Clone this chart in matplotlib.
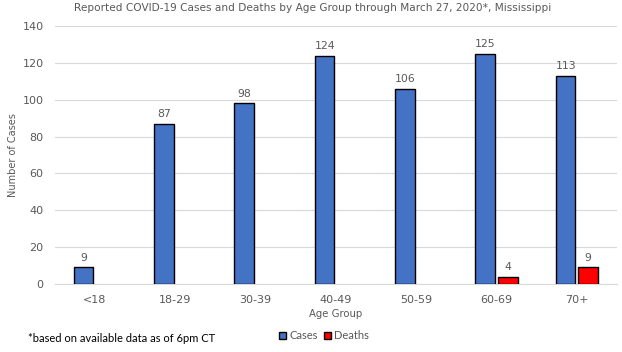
import numpy as np
import matplotlib.pyplot as plt
from matplotlib.patches import Patch

# data
age_groups = ["<18", "18-29", "30-39", "40-49", "50-59", "60-69", "70+"]
cases = [9, 87, 98, 124, 106, 125, 113]
deaths = [0, 0, 0, 0, 0, 4, 9]
y_ticks = [0, 20, 40, 60, 80, 100, 120, 140]

plt.rcParams['font.family'] = ['DejaVu Sans']

grey = '#595959'
blue = '#4472C4'
red = '#FF0000'
fig = plt.figure(figsize=(6.22, 3.52), dpi=100)
ax = fig.add_axes([0.088, 0.193, 0.904, 0.733])

x = np.arange(len(age_groups))
w = 0.245
off = 0.14
b1 = ax.bar(x - off, cases, w, color=blue, edgecolor='black', linewidth=1.0, zorder=3)
b2 = ax.bar(x + off, deaths, w, color=red, edgecolor='black', linewidth=1.0, zorder=3)

for rect, v in zip(b1, cases):
    ax.text(rect.get_x() + rect.get_width() / 2, v + 2.5, str(v), ha='center', va='bottom',
            fontsize=7.8, color=grey)
for rect, v in zip(b2, deaths):
    if v > 0:
        ax.text(rect.get_x() + rect.get_width() / 2, v + 2.5, str(v), ha='center', va='bottom',
                fontsize=7.8, color=grey)
    else:
        rect.set_visible(False)

ax.set_xlim(-0.5, len(age_groups) - 0.5)
ax.set_ylim(0, 140)
ax.set_yticks(y_ticks)
ax.set_xticks(x)
ax.set_xticklabels(age_groups)
ax.tick_params(axis='both', length=0, colors=grey, labelsize=8)
ax.tick_params(axis='x', pad=8)
ax.tick_params(axis='y', pad=8)
ax.yaxis.grid(True, color='#d9d9d9', linewidth=0.8, zorder=0)
for s in ['top', 'right', 'left']:
    ax.spines[s].set_visible(False)
ax.spines['bottom'].set_color('#d9d9d9')

ax.set_xlabel('Age Group', fontsize=7.3, color=grey, labelpad=3)
ax.set_ylabel('Number of Cases', fontsize=7, color=grey, labelpad=3)

fig.text(0.502, 0.978, 'Reported COVID-19 Cases and Deaths by Age Group through March 27, 2020*, Mississippi',
         ha='center', va='center', fontsize=7.6, color=grey)
fig.text(0.045, 0.037, '*based on available data as of 6pm CT', ha='left', va='center',
         fontsize=8, color='black', family='Lato')

handles = [Patch(facecolor=blue, edgecolor='black', linewidth=1.0, label='Cases'),
           Patch(facecolor=red, edgecolor='black', linewidth=1.0, label='Deaths')]
fig.legend(handles=handles, loc='center', bbox_to_anchor=(0.521, 0.046), ncol=2, frameon=False,
           prop={'family': 'Lato', 'size': 8}, handlelength=0.6, handleheight=0.6,
           handletextpad=0.3, columnspacing=0.6, labelcolor=grey)

fig.savefig('out.png', dpi=100)
